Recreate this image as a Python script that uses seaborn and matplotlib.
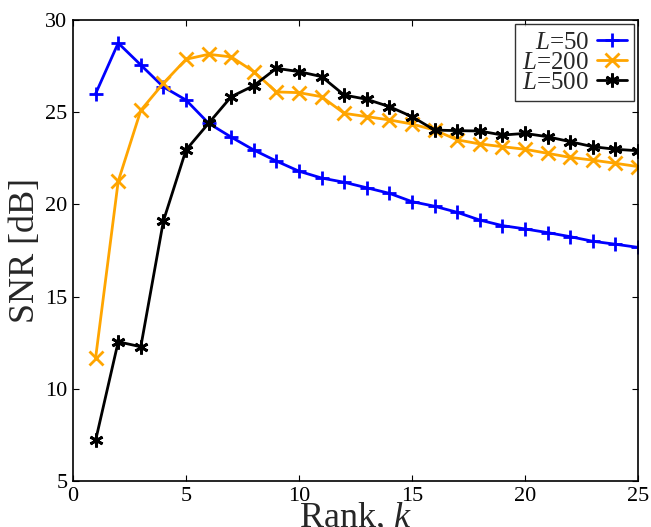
import matplotlib
matplotlib.use("Agg")
import matplotlib.pyplot as plt
import seaborn as sns
import pandas as pd

rank = list(range(1, 26))
snr_L50 = [26.0, 28.75, 27.56, 26.37, 25.66, 24.4, 23.65, 22.95, 22.35, 21.8,
           21.43, 21.2, 20.9, 20.6, 20.15, 19.9, 19.57, 19.15, 18.85, 18.67,
           18.47, 18.25, 18.0, 17.84, 17.67]
snr_L200 = [11.67, 21.25, 25.1, 26.57, 27.87, 28.14, 28.0, 27.2, 26.1, 26.06,
            25.84, 24.94, 24.76, 24.58, 24.36, 24.03, 23.5, 23.28, 23.13, 22.99,
            22.77, 22.55, 22.4, 22.23, 22.05]
snr_L500 = [7.2, 12.55, 12.28, 19.1, 22.95, 24.4, 25.84, 26.44, 27.38, 27.2,
            26.93, 25.93, 25.7, 25.3, 24.76, 24.03, 24.0, 23.98, 23.76, 23.85,
            23.67, 23.4, 23.13, 22.99, 22.91]
labels = ["$L$=50", "$L$=200", "$L$=500"]
colors = ["#0000ff", "#ffa500", "#000000"]
markers = ["+", "x", (6, 2, 0)]

sns.set_theme(style="white")
plt.rcParams["font.family"] = ["Liberation Serif", "DejaVu Serif"]
plt.rcParams["mathtext.fontset"] = "custom"
plt.rcParams["mathtext.rm"] = "Liberation Serif"
plt.rcParams["mathtext.it"] = "Liberation Serif:italic"

fig = plt.figure(figsize=(6.51, 5.27), dpi=100)
ax = fig.add_axes([73/651, 1-481/527, (638-73)/651, (481-20)/527])

for vals, lab, col, mk in zip([snr_L50, snr_L200, snr_L500], labels, colors, markers):
    df = pd.DataFrame({"k": rank, "snr": vals})
    sns.lineplot(data=df, x="k", y="snr", ax=ax, color=col, marker=mk,
                 markersize=10, markeredgewidth=2, linewidth=2, label=lab,
                 markeredgecolor=col)

ax.set_xlim(0, 25)
ax.set_ylim(5, 30)
ax.set_xticks([0, 5, 10, 15, 20, 25])
ax.set_yticks([5, 10, 15, 20, 25, 30])
ax.tick_params(direction="in", length=4, width=0.8, labelsize=16, top=True, right=True,
               bottom=True, left=True, colors="black", pad=4)
for s in ax.spines.values():
    s.set_color("black")
    s.set_linewidth(1.2)
ax.set_xlabel("Rank, $k$", fontsize=26, labelpad=-3)
ax.set_ylabel("SNR [dB]", fontsize=26, labelpad=2)
ax.grid(False)

leg = ax.legend(loc="upper right", fontsize=18, markerfirst=False, frameon=True,
                fancybox=False, borderpad=0.3, labelspacing=-0.1, handlelength=1.2,
                handletextpad=0.3, borderaxespad=0.15)
leg.get_frame().set_edgecolor("black")
leg.get_frame().set_linewidth(1.0)

fig.savefig("out.png", dpi=100)
